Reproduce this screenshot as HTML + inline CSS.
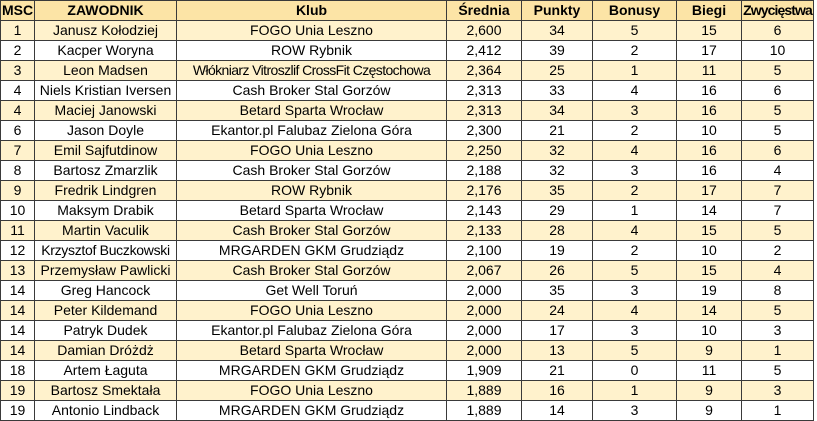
<!DOCTYPE html>
<html><head><meta charset="utf-8"><style>
body{margin:0;background:#fff;width:817px;height:421px;overflow:hidden}
table{border-collapse:collapse;table-layout:fixed;position:absolute;left:0;top:0;font-family:"Liberation Sans",sans-serif;font-size:14px;color:#000}
td,th{border:1px solid #3a3a3a;height:19px;padding:0;text-align:center;white-space:nowrap;overflow:hidden;line-height:19px}
th{background:#fce4a6;font-weight:bold}
tr:nth-child(even) td{background:#fff2cc}
</style></head><body>
<table>
<colgroup><col style="width:34px"><col style="width:142px"><col style="width:270px"><col style="width:75px"><col style="width:71px"><col style="width:84px"><col style="width:65px"><col style="width:72px"></colgroup>
<tr><th>MSC</th><th>ZAWODNIK</th><th>Klub</th><th>Średnia</th><th>Punkty</th><th>Bonusy</th><th>Biegi</th><th style="letter-spacing:-0.9px">Zwycięstwa</th></tr>
<tr><td>1</td><td>Janusz Kołodziej</td><td>FOGO Unia Leszno</td><td>2,600</td><td>34</td><td>5</td><td>15</td><td>6</td></tr>
<tr><td>2</td><td>Kacper Woryna</td><td>ROW Rybnik</td><td>2,412</td><td>39</td><td>2</td><td>17</td><td>10</td></tr>
<tr><td>3</td><td>Leon Madsen</td><td style="letter-spacing:-0.6px">Włókniarz Vitroszlif CrossFit Częstochowa</td><td>2,364</td><td>25</td><td>1</td><td>11</td><td>5</td></tr>
<tr><td>4</td><td>Niels Kristian Iversen</td><td>Cash Broker Stal Gorzów</td><td>2,313</td><td>33</td><td>4</td><td>16</td><td>6</td></tr>
<tr><td>4</td><td>Maciej Janowski</td><td>Betard Sparta Wrocław</td><td>2,313</td><td>34</td><td>3</td><td>16</td><td>5</td></tr>
<tr><td>6</td><td>Jason Doyle</td><td>Ekantor.pl Falubaz Zielona Góra</td><td>2,300</td><td>21</td><td>2</td><td>10</td><td>5</td></tr>
<tr><td>7</td><td>Emil Sajfutdinow</td><td>FOGO Unia Leszno</td><td>2,250</td><td>32</td><td>4</td><td>16</td><td>6</td></tr>
<tr><td>8</td><td>Bartosz Zmarzlik</td><td>Cash Broker Stal Gorzów</td><td>2,188</td><td>32</td><td>3</td><td>16</td><td>4</td></tr>
<tr><td>9</td><td>Fredrik Lindgren</td><td>ROW Rybnik</td><td>2,176</td><td>35</td><td>2</td><td>17</td><td>7</td></tr>
<tr><td>10</td><td>Maksym Drabik</td><td>Betard Sparta Wrocław</td><td>2,143</td><td>29</td><td>1</td><td>14</td><td>7</td></tr>
<tr><td>11</td><td>Martin Vaculik</td><td>Cash Broker Stal Gorzów</td><td>2,133</td><td>28</td><td>4</td><td>15</td><td>5</td></tr>
<tr><td>12</td><td style="letter-spacing:-0.3px">Krzysztof Buczkowski</td><td>MRGARDEN GKM Grudziądz</td><td>2,100</td><td>19</td><td>2</td><td>10</td><td>2</td></tr>
<tr><td>13</td><td>Przemysław Pawlicki</td><td>Cash Broker Stal Gorzów</td><td>2,067</td><td>26</td><td>5</td><td>15</td><td>4</td></tr>
<tr><td>14</td><td>Greg Hancock</td><td>Get Well Toruń</td><td>2,000</td><td>35</td><td>3</td><td>19</td><td>8</td></tr>
<tr><td>14</td><td>Peter Kildemand</td><td>FOGO Unia Leszno</td><td>2,000</td><td>24</td><td>4</td><td>14</td><td>5</td></tr>
<tr><td>14</td><td>Patryk Dudek</td><td>Ekantor.pl Falubaz Zielona Góra</td><td>2,000</td><td>17</td><td>3</td><td>10</td><td>3</td></tr>
<tr><td>14</td><td>Damian Dróżdż</td><td>Betard Sparta Wrocław</td><td>2,000</td><td>13</td><td>5</td><td>9</td><td>1</td></tr>
<tr><td>18</td><td>Artem Łaguta</td><td>MRGARDEN GKM Grudziądz</td><td>1,909</td><td>21</td><td>0</td><td>11</td><td>5</td></tr>
<tr><td>19</td><td>Bartosz Smektała</td><td>FOGO Unia Leszno</td><td>1,889</td><td>16</td><td>1</td><td>9</td><td>3</td></tr>
<tr><td>19</td><td>Antonio Lindback</td><td>MRGARDEN GKM Grudziądz</td><td>1,889</td><td>14</td><td>3</td><td>9</td><td>1</td></tr>
</table>
</body></html>
